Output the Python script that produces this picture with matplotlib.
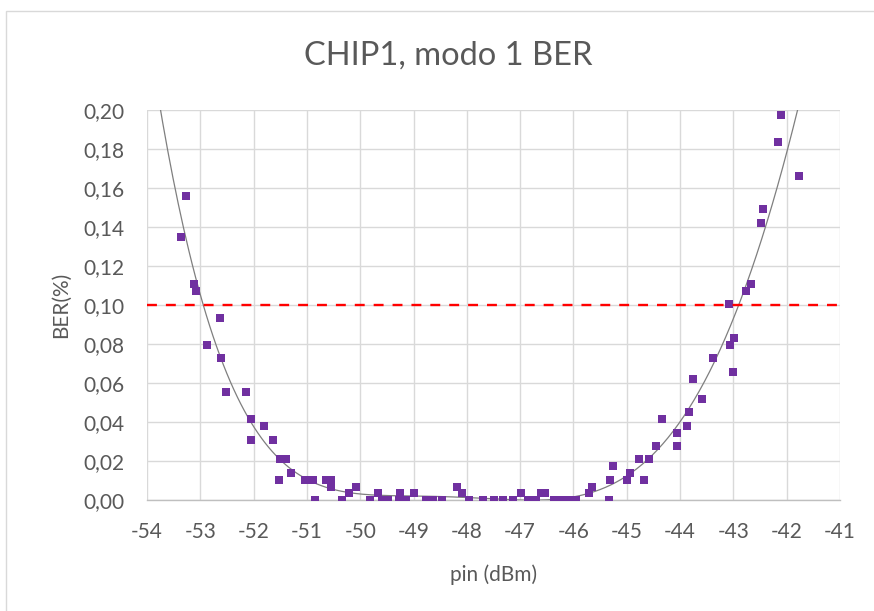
import matplotlib
matplotlib.use("Agg")
import matplotlib.pyplot as plt
from matplotlib.patches import Rectangle
import numpy as np

pin_dbm = [-53.36, -53.27, -53.11, -53.09, -52.87, -52.625, -52.61, -52.51, -52.14, -52.05,
           -52.04, -51.80, -51.63, -51.53, -51.51, -51.39, -51.29, -51.03, -50.88, -50.84,
           -50.64, -50.54, -50.54, -50.34, -50.22, -50.07,
           -49.81, -49.66, -49.59, -49.48, -49.25, -49.275, -49.15, -49.00, -48.775, -48.64,
           -48.46, -48.19, -48.10, -47.96, -47.69, -47.50, -47.325, -47.125, -46.975, -46.85,
           -46.70, -46.60, -46.525, -46.37, -46.25, -46.11, -45.95, -45.71, -45.66,
           -45.34, -45.31, -45.25, -44.99, -44.94, -44.775, -44.68, -44.59, -44.45, -44.33,
           -44.06, -44.06, -43.875, -43.84, -43.75, -43.59, -43.39, -43.09, -43.07, -43.01,
           -42.99, -42.76, -42.675, -42.48, -42.44, -42.17, -42.11, -41.77]
ber_pct = [0.135, 0.156, 0.111, 0.107, 0.0797, 0.0935, 0.0727, 0.0553, 0.0553, 0.031,
           0.0415, 0.038, 0.031, 0.0102, 0.0208, 0.0208, 0.0138, 0.0102, 0.0102, 0.0,
           0.0102, 0.0102, 0.0068, 0.0, 0.0034, 0.0068,
           0.0, 0.0034, 0.0, 0.0, 0.0034, 0.0, 0.0, 0.0034, 0.0, 0.0,
           0.0, 0.0068, 0.0034, 0.0, 0.0, 0.0, 0.0, 0.0, 0.0034, 0.0,
           0.0, 0.0034, 0.0034, 0.0, 0.0, 0.0, 0.0, 0.0034, 0.0068,
           0.0, 0.0102, 0.0174, 0.0102, 0.0138, 0.0208, 0.0102, 0.0208, 0.0276, 0.0414,
           0.0276, 0.0344, 0.038, 0.045, 0.0623, 0.0518, 0.0727, 0.1003, 0.0797, 0.0657,
           0.0829, 0.1074, 0.111, 0.142, 0.149, 0.1838, 0.1976, 0.1664]

ber_limit = 0.10
x_ticks = list(range(-54, -40))
y_ticks = [0.00, 0.02, 0.04, 0.06, 0.08, 0.10, 0.12, 0.14, 0.16, 0.18, 0.20]

plt.rcParams['font.family'] = ['Lato', 'DejaVu Sans']
text_col = '#595959'
grid_col = '#d9d9d9'

fig = plt.figure(figsize=(8.74, 6.11), dpi=100)
ax = fig.add_axes([147/874, 1 - 500/611, (840 - 147)/874, (500 - 110)/611])

# chart area border (only top and left visible in the crop)
fig.add_artist(Rectangle((6/874, -0.2), 2.0, 1.2 - 11/611, transform=fig.transFigure,
                         fill=False, edgecolor=grid_col, linewidth=1.0))

# polynomial trendline (order 5), like the spreadsheet one
coef = np.polyfit(pin_dbm, ber_pct, 5)
xs = np.linspace(-54, -41, 400)
ax.plot(xs, np.polyval(coef, xs), color='#7f7f7f', linewidth=0.9, zorder=3)

ax.scatter(pin_dbm, ber_pct, marker='s', s=26, color='#7030a0', linewidths=0, zorder=4)

ax.axhline(ber_limit, color='#ff0000', linewidth=1.7, dashes=(4.2, 3.8), zorder=5)

ax.set_xlim(-54, -41)
ax.set_ylim(0, 0.20)
ax.set_xticks(x_ticks)
ax.set_yticks(y_ticks)
ax.set_xticklabels([str(t) for t in x_ticks])
ax.set_yticklabels([f"{t:.2f}".replace('.', ',') for t in y_ticks])
ax.tick_params(length=0, labelsize=15, labelcolor=text_col)
ax.tick_params(axis='y', pad=16)
ax.tick_params(axis='x', pad=16)

ax.grid(True, color=grid_col, linewidth=1.0)
ax.set_axisbelow(True)
for side in ['top', 'right', 'left']:
    ax.spines[side].set_visible(False)
ax.spines['bottom'].set_color('#bfbfbf')
ax.spines['bottom'].set_linewidth(1.0)

fig.text(448/874, 1 - 56/611, "CHIP1, modo 1 BER", fontsize=23.5, color=text_col,
         ha='center', va='center')
ax.set_xlabel("pin (dBm)", fontsize=15, color=text_col, labelpad=16)
ax.set_ylabel("BER(%)", fontsize=15, color=text_col, labelpad=9)

fig.savefig("out.png", dpi=100)
